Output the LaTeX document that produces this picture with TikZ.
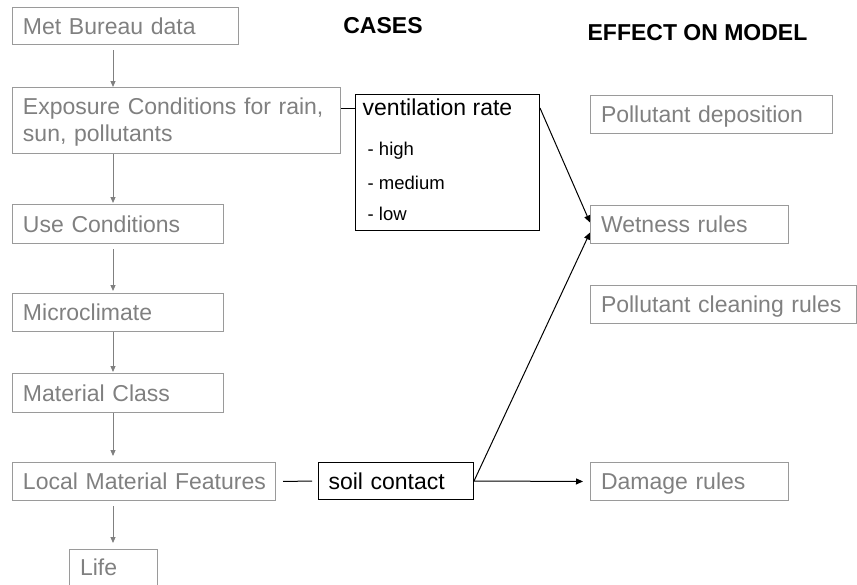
\documentclass[tikz,border=0pt]{standalone}
\usepackage{fontspec}
\setmainfont{Liberation Sans}
\usetikzlibrary{arrows.meta}
\definecolor{txtgray}{HTML}{808080}
\definecolor{boxgray}{HTML}{9A9A9A}
\definecolor{linegray}{HTML}{808080}
\tikzset{
  gbox/.style n args={3}{draw=boxgray, text=txtgray, line width=1pt, anchor=north west,
    inner xsep=0pt, inner ysep=0pt, align=left, text width=#1pt,
    execute at begin node={\leftskip=10.5pt\relax},
    minimum height=#2pt, font=\fontsize{23}{25}\selectfont, text height=16.5pt, text depth=0pt, #3},
  kbox/.style n args={2}{draw=black, text=black, line width=1pt, anchor=north west,
    inner xsep=0pt, inner ysep=0pt, align=left, text width=#1pt,
    execute at begin node={\leftskip=10pt\relax},
    minimum height=#2pt, font=\fontsize{23}{25}\selectfont, text height=16.5pt, text depth=0pt},
  head/.style={font=\fontsize{23}{25}\selectfont\bfseries, text=black, inner sep=0pt},
  sub/.style={font=\fontsize{18.5}{20}\selectfont, text=black, inner sep=0pt, anchor=base west},
  garrow/.style={draw=linegray, line width=1pt, -{Triangle[length=6pt,width=5pt]}},
  karrow/.style={draw=black, line width=1pt, -{Triangle[length=7pt,width=6pt]}},
  kline/.style={draw=black, line width=1pt},
}
\begin{document}
\begin{tikzpicture}[x=1pt,y=-1pt]
\useasboundingbox (0,0) rectangle (857,584);
% headers
\node[head] (cases) at (383,26) {CASES};
\node[head] (effect) at (697.5,33) {EFFECT ON MODEL};
% left chain
\coordinate (axis) at (113,0);
\node[gbox={226}{37}{}] (met) at (12,7) {Met Bureau data};
\node[gbox={328}{66}{text depth=28.5pt, font=\fontsize{23}{27}\selectfont}] (exp) at (12,87) {Exposure Conditions for rain,\\sun, pollutants};
\node[gbox={211}{39}{}] (use) at (12,204) {Use Conditions};
\node[gbox={211}{38}{}] (micro) at (12,293) {Microclimate};
\node[gbox={211}{39}{}] (mat) at (12,373) {Material Class};
\node[gbox={263}{38}{}] (lmf) at (12,462) {Local Material Features};
\node[gbox={88}{36}{}] (life) at (69,549) {Life};
% cases
\node[draw=black, line width=1pt, anchor=north west, minimum width=184pt, minimum height=136pt, inner sep=0pt] (vr) at (355,94) {};
\node[sub, font=\fontsize{23}{25}\selectfont] (vrt) at (362.5,115) {ventilation rate};
\node[sub] (vrh) at (367.5,155) {- high};
\node[sub] (vrm) at (367.5,189) {- medium};
\node[sub] (vrl) at (367.5,220) {- low};
\node[kbox={155}{37}] (sc) at (318,462) {soil contact};
% effects
\node[gbox={242}{38}{}] (dep) at (590,95) {Pollutant deposition};
\node[gbox={198}{38}{}] (wet) at (590,205) {Wetness rules};
\node[gbox={266}{38}{}] (clean) at (590,285) {Pollutant cleaning rules};
\node[gbox={198}{38}{}] (dmg) at (590,462) {Damage rules};
% chain arrows
\draw[garrow, shorten <=5pt] (met.south -| axis) -- (exp.north -| axis);
\draw[garrow, shorten >=1pt] (exp.south -| axis) -- (use.north -| axis);
\draw[garrow, shorten <=5pt, shorten >=2pt] (use.south -| axis) -- (micro.north -| axis);
\draw[garrow, shorten >=1pt] (micro.south -| axis) -- (mat.north -| axis);
\draw[garrow, shorten >=6pt] (mat.south -| axis) -- (lmf.north -| axis);
\draw[garrow, shorten <=5pt, shorten >=6pt] (lmf.south -| axis) -- (life.north -| axis);
% case connectors
\draw[kline] ([yshift=12pt]exp.east) -- ([yshift=12pt]exp.east -| vr.west);
\draw[kline, shorten <=7pt, shorten >=6pt] (lmf.east) -- (sc.west);
\draw[karrow] ([yshift=-14pt]vr.north east) -- ([yshift=2pt]wet.west);
\draw[karrow] (sc.east) -- ([yshift=-8pt]wet.west);
\draw[karrow, shorten >=7pt] (sc.east) -- (dmg.west);
\end{tikzpicture}
\end{document}
